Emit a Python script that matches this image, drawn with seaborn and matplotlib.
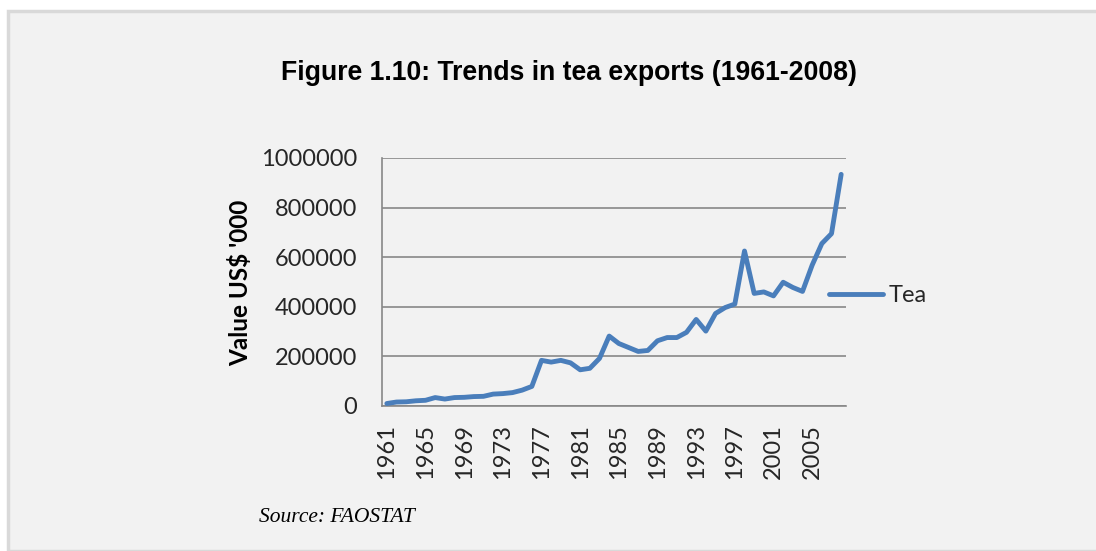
import matplotlib
matplotlib.use("Agg")
import matplotlib.pyplot as plt
from matplotlib.patches import Rectangle
import seaborn as sns
import pandas as pd

# Tea export values, US$ '000, 1961-2008 (FAOSTAT)
years = list(range(1961, 2009))
tea_values = [
    10000, 16000, 17000, 21000, 23000, 34000, 28000, 34000, 35000, 38000,
    39000, 48000, 50000, 54000, 64000, 79000, 184000, 177000, 184000, 174000,
    146000, 152000, 192000, 282000, 252000, 236000, 220000, 224000, 263000, 276000,
    276000, 297000, 349000, 302000, 373000, 397000, 411000, 625000, 454000, 460000,
    444000, 499000, 478000, 462000, 568000, 655000, 695000, 934000,
]
y_ticks = [0, 200000, 400000, 600000, 800000, 1000000]
x_ticks = list(range(1961, 2009, 4))

df = pd.DataFrame({"Year": years, "Tea": tea_values})

sns.set_theme(style="white")
plt.rcParams["font.family"] = ["Lato", "DejaVu Sans"]

W, H = 1096, 551
fig = plt.figure(figsize=(W / 100, H / 100), dpi=100)
fig.patch.set_facecolor("white")

# grey panel behind the chart
panel = Rectangle((8 / W, 0), 1 - 8 / W + 0.01, 1 - 11 / H,
                  transform=fig.transFigure, facecolor="#f2f2f2",
                  edgecolor="#d9d9d9", linewidth=2.5, zorder=-10)
fig.patches.append(panel)

ax = fig.add_axes([382 / W, (H - 406) / H, 464 / W, 248 / H])
ax.set_facecolor("none")
ax.set_zorder(5)

sns.lineplot(data=df, x="Year", y="Tea", ax=ax, color="#4a7ebb",
             linewidth=3.5, label="Tea", solid_capstyle="round",
             solid_joinstyle="round", zorder=3)

ax.set_xlim(1960.5, 2008.5)
ax.set_ylim(0, 1000000)
ax.set_yticks(y_ticks)
ax.set_yticklabels([str(v) for v in y_ticks])
ax.set_xticks(x_ticks)
ax.set_xticklabels([str(v) for v in x_ticks], rotation=90)
ax.tick_params(axis="y", length=0, pad=18, labelsize=17, labelcolor="#262626")
ax.tick_params(axis="x", length=0, pad=13, labelsize=17, labelcolor="#262626")
ax.set_xlabel("")
ax.set_ylabel("")

ax.grid(axis="y", color="#888888", linewidth=1.2)
ax.set_axisbelow(True)
for side in ("top", "right"):
    ax.spines[side].set_visible(False)
for side in ("left", "bottom"):
    ax.spines[side].set_color("#888888")
    ax.spines[side].set_linewidth(1.2)

leg = ax.legend(loc="center left", bbox_to_anchor=(829 / W, 1 - 296 / H),
                bbox_transform=fig.transFigure, frameon=False, fontsize=17,
                handlelength=2.3, handletextpad=0.22, borderpad=0,
                borderaxespad=0)
for t in leg.get_texts():
    t.set_color("#262626")

fig.text(240 / W, 1 - 283 / H, "Value US$ '000", rotation=90, ha="center",
         va="center", fontsize=17.5, fontweight="bold", color="black")
fig.text(569 / W, 1 - 73 / H, "Figure 1.10: Trends in tea exports (1961-2008)",
         ha="center", va="center", fontsize=19.2, fontweight="bold",
         family="Liberation Sans", color="black")
fig.text(259 / W, 1 - 518 / H, "Source: FAOSTAT", ha="left", va="center",
         fontsize=15.5, style="italic", family="Liberation Serif", color="black")

fig.savefig("out.png", dpi=100, facecolor=fig.get_facecolor())
